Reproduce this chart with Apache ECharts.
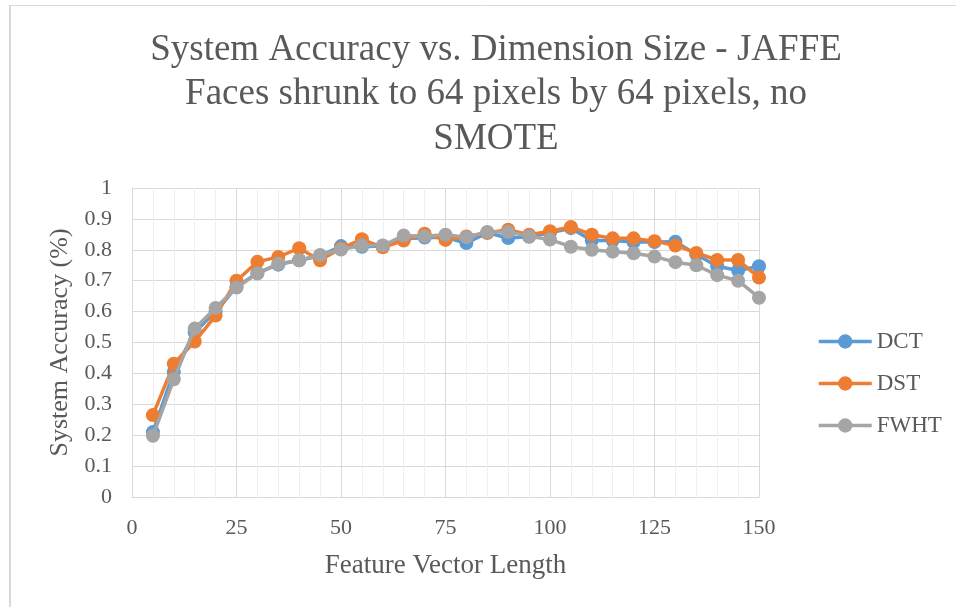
<!DOCTYPE html>
<html>
<head>
<meta charset="utf-8">
<script src="https://cdn.jsdelivr.net/npm/echarts@6/dist/echarts.min.js"></script>
<style>html,body{margin:0;padding:0;background:#fff;}#c{width:956px;height:607px;}</style>
</head>
<body>
<div id="c"></div>
<script>
const featureLengths = [5,10,15,20,25,30,35,40,45,50,55,60,65,70,75,80,85,90,95,100,105,110,115,120,125,130,135,140,145,150];
const dctValues = [0.21,0.405,0.533,0.60,0.68,0.725,0.752,0.766,0.78,0.812,0.81,0.812,0.835,0.84,0.84,0.822,0.855,0.838,0.842,0.855,0.87,0.83,0.83,0.825,0.825,0.826,0.785,0.747,0.733,0.747];
const dstValues = [0.265,0.431,0.503,0.587,0.70,0.761,0.777,0.805,0.766,0.805,0.834,0.808,0.83,0.852,0.832,0.843,0.855,0.865,0.849,0.86,0.874,0.849,0.837,0.837,0.828,0.814,0.79,0.767,0.767,0.71];
const fwhtValues = [0.198,0.381,0.545,0.612,0.678,0.723,0.755,0.766,0.783,0.801,0.814,0.814,0.846,0.844,0.849,0.841,0.858,0.858,0.844,0.833,0.81,0.80,0.794,0.789,0.778,0.760,0.75,0.718,0.70,0.645];
const seriesNames = ['DCT','DST','FWHT'];
const seriesColors = ['#5B9BD5','#ED7D31','#A5A5A5'];
const titleLines = ['System Accuracy vs. Dimension Size - JAFFE','Faces shrunk to 64 pixels by 64 pixels, no','SMOTE'];
const xAxisTitle = 'Feature Vector Length';
const yAxisTitle = 'System Accuracy (%)';

const font = '"Liberation Serif", "Times New Roman", serif';
const textColor = '#595959';
const allValues = [dctValues, dstValues, fwhtValues];

const chart = echarts.init(document.getElementById('c'), null, {renderer: 'canvas'});
chart.setOption({
  animation: false,
  backgroundColor: '#fff',
  textStyle: {fontFamily: font},
  title: {
    text: titleLines.join('\n'),
    left: 491, top: 23, textAlign: 'center',
    textStyle: {fontFamily: font, fontSize: 37, fontWeight: 'normal', color: textColor, lineHeight: 44.5}
  },
  graphic: [
    {type: 'line', shape: {x1: 9, y1: 5.5, x2: 956, y2: 5.5}, style: {stroke: '#d9d9d9', lineWidth: 1}},
    {type: 'line', shape: {x1: 10, y1: 5, x2: 10, y2: 607}, style: {stroke: '#d9d9d9', lineWidth: 2}}
  ],
  legend: {
    orient: 'vertical', left: 817, top: 330, padding: 0,
    itemWidth: 53, itemHeight: 18, itemGap: 19,
    lineStyle: {width: 3.5},
    textStyle: {fontFamily: font, fontSize: 23, color: textColor},
    data: seriesNames
  },
  grid: {left: 132, right: 197, top: 188, bottom: 110, containLabel: false},
  xAxis: {
    type: 'value', min: 0, max: 150, interval: 25,
    name: xAxisTitle, nameLocation: 'middle', nameGap: 55,
    nameTextStyle: {fontFamily: font, fontSize: 27, color: textColor},
    axisLine: {show: true, lineStyle: {color: '#d9d9d9', width: 1}},
    axisTick: {show: false},
    axisLabel: {fontFamily: font, fontSize: 22, color: textColor, margin: 20},
    splitLine: {show: true, lineStyle: {color: '#d9d9d9', width: 1}},
    minorTick: {show: false, splitNumber: 5},
    minorSplitLine: {show: true, lineStyle: {color: '#efefef', width: 1}}
  },
  yAxis: {
    type: 'value', min: 0, max: 1, interval: 0.1,
    name: yAxisTitle, nameLocation: 'middle', nameGap: 49,
    nameTextStyle: {fontFamily: font, fontSize: 26, color: textColor},
    axisLine: {show: true, lineStyle: {color: '#d9d9d9', width: 1}},
    axisTick: {show: false},
    axisLabel: {fontFamily: font, fontSize: 22, color: textColor, margin: 20,
      formatter: v => String(Math.round(v * 10) / 10)},
    splitLine: {show: true, lineStyle: {color: '#d9d9d9', width: 1}}
  },
  series: seriesNames.map((name, i) => ({
    name: name, type: 'line',
    data: featureLengths.map((x, j) => [x, allValues[i][j]]),
    symbol: 'circle', symbolSize: 14, showSymbol: true,
    lineStyle: {color: seriesColors[i], width: 3.5},
    itemStyle: {color: seriesColors[i]},
    z: 2 + i
  }))
});
</script>
</body>
</html>
